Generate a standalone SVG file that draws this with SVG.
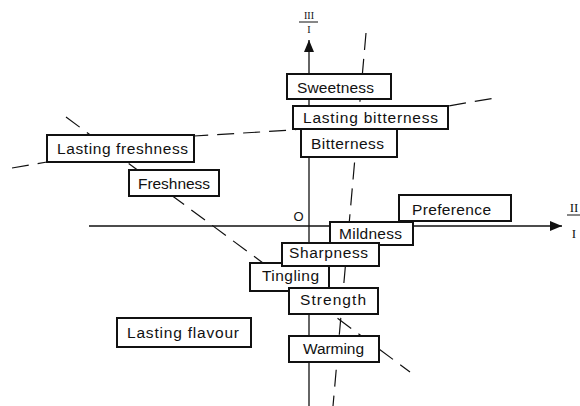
<svg xmlns="http://www.w3.org/2000/svg" width="580" height="406" viewBox="0 0 580 406">
<style>
.box rect{fill:#fff;stroke:#111;stroke-width:2}
.box text{font-family:"Liberation Sans",Arial,sans-serif;font-size:15.5px;fill:#111}
.axis{stroke:#111;stroke-width:1.3;fill:none}
.dash{stroke:#111;stroke-width:1.2;fill:none;stroke-dasharray:17 9}
.num{font-family:"Liberation Serif","Times New Roman",serif;fill:#111;text-anchor:middle}
</style>
<defs>
<marker id="ah" viewBox="0 0 12 10" refX="12" refY="5" markerWidth="12" markerHeight="10" markerUnits="userSpaceOnUse" orient="auto">
<path d="M0,0 L12,5 L0,10 Z" fill="#111"/>
</marker>
</defs>
<g id="connectors">
<line class="axis" x1="89" y1="226" x2="562" y2="226" marker-end="url(#ah)"/>
<line class="axis" x1="309" y1="406" x2="309" y2="40" marker-end="url(#ah)"/>
<line class="dash" x1="366" y1="33" x2="333" y2="406"/>
<line class="dash" x1="66" y1="117" x2="410" y2="372"/>
<path class="dash" d="M12,168 L47,162 L194,136 L293,130 L448,106 L495,98"/>
</g>
<g id="axis-labels">
<text class="num" x="309" y="19" font-size="10">III</text>
<line x1="299" y1="22" x2="318" y2="22" stroke="#111" stroke-width="1"/>
<text class="num" x="309" y="33" font-size="10">I</text>
<text class="num" x="574" y="212" font-size="13">II</text>
<line x1="567" y1="215" x2="580" y2="215" stroke="#111" stroke-width="1"/>
<text class="num" x="574" y="238" font-size="13">I</text>
<text x="298.5" y="221" font-family="Liberation Sans,Arial,sans-serif" font-size="13" text-anchor="middle" fill="#111">O</text>
</g>
<g id="sweetness" class="box"><rect x="287" y="74" width="104" height="25"/><text x="297" y="93" textLength="77">Sweetness</text></g>
<g id="lasting-bitterness" class="box"><rect x="293" y="106" width="155" height="23"/><text x="303" y="123" textLength="135">Lasting bitterness</text></g>
<g id="bitterness" class="box"><rect x="301" y="129" width="96" height="28"/><text x="311" y="149" textLength="73">Bitterness</text></g>
<g id="lasting-freshness" class="box"><rect x="47" y="135" width="147" height="27"/><text x="57" y="154" textLength="131">Lasting freshness</text></g>
<g id="freshness" class="box"><rect x="129" y="170" width="90" height="26"/><text x="138" y="189" textLength="72">Freshness</text></g>
<g id="preference" class="box"><rect x="399" y="195" width="112" height="26"/><text x="412" y="215" textLength="79">Preference</text></g>
<g id="mildness" class="box"><rect x="330" y="222" width="83" height="23"/><text x="339" y="239" textLength="63">Mildness</text></g>
<g id="tingling" class="box"><rect x="250" y="263" width="79" height="28"/><text x="262" y="281" textLength="57">Tingling</text></g>
<g id="sharpness" class="box"><rect x="282" y="243" width="97" height="23"/><text x="289" y="258" textLength="79">Sharpness</text></g>
<g id="strength" class="box"><rect x="289" y="288" width="89" height="26"/><text x="300" y="305" textLength="66">Strength</text></g>
<g id="lasting-flavour" class="box"><rect x="117" y="318" width="134" height="29"/><text x="127" y="338" textLength="112">Lasting flavour</text></g>
<g id="warming" class="box"><rect x="289" y="336" width="90" height="26"/><text x="303" y="354" textLength="61">Warming</text></g>
</svg>
